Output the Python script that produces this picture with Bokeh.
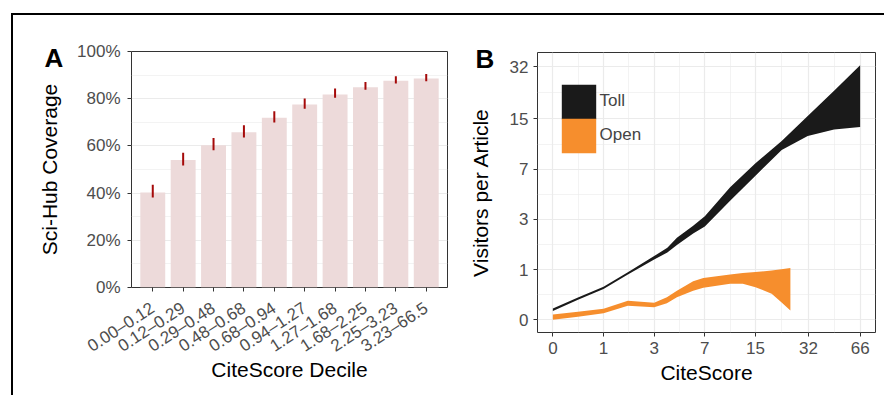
import numpy as np
from bokeh.plotting import figure
from bokeh.models import (FactorRange, FixedTicker, Legend, LegendItem,
                          Range1d, PrintfTickFormatter, CustomJSTickFormatter)
from bokeh.layouts import row
from bokeh.embed import file_html
from bokeh.resources import INLINE

# ---------------- Panel A data ----------------
deciles = ["0.00–0.12", "0.12–0.29", "0.29–0.48", "0.48–0.68", "0.68–0.94",
           "0.94–1.27", "1.27–1.68", "1.68–2.25", "2.25–3.23", "3.23–66.5"]
coverage = [40.3, 54.0, 60.3, 65.8, 71.9, 77.5, 81.8, 84.9, 87.6, 88.6]
cov_lo = [38.1, 51.7, 58.2, 63.6, 69.9, 75.7, 80.4, 83.8, 86.4, 87.4]
cov_hi = [43.5, 57.1, 63.4, 68.8, 74.7, 80.1, 84.3, 87.1, 89.5, 90.5]
pct_ticks = [0, 20, 40, 60, 80, 100]
pct_minor = [10, 30, 50, 70, 90]

# ---------------- Panel B data ----------------
toll_cite = [0, 0.41, 1, 1.79, 3, 3.79, 4.46, 5.82, 7, 10.31, 15, 21.9, 31.7, 45.9, 66]
toll_lo = [0.13, 0.32, 0.53, 0.87, 1.30, 1.53, 1.81, 2.29, 2.63, 4.17, 6.31, 9.41, 11.64, 12.83, 13.32]
toll_hi = [0.17, 0.36, 0.58, 0.93, 1.41, 1.70, 2.10, 2.66, 3.17, 5.23, 7.69, 10.79, 15.68, 22.59, 32.59]

open_cite = [0, 0.41, 1, 1.79, 3, 3.76, 4.46, 5.82, 6.84, 10.31, 12.45, 15, 18.97, 21.8, 24.8]
open_lo = [0.0, 0.043, 0.094, 0.214, 0.189, 0.257, 0.366, 0.495, 0.558, 0.647, 0.647, 0.569, 0.434, 0.275, 0.137]
open_hi = [0.076, 0.117, 0.165, 0.301, 0.266, 0.366, 0.495, 0.705, 0.778, 0.866, 0.905, 0.932, 0.973, 1.007, 1.042]

x_tick_vals = [0, 1, 3, 7, 15, 32, 66]
y_tick_vals = [0, 1, 3, 7, 15, 32]

FONT = "Liberation Sans"
GRID = "#EBEBEB"
DARK = "#333333"


def tr(v):
    return np.log2(1 + np.asarray(v, dtype=float))


def style_axes(p):
    for ax in (p.xaxis[0], p.yaxis[0]):
        ax.axis_line_color = None
        ax.major_tick_line_color = DARK
        ax.major_tick_out = 4
        ax.major_tick_in = 0
        ax.minor_tick_line_color = None
        ax.major_label_text_color = "#4D4D4D"
        ax.major_label_text_font = FONT
        ax.major_label_text_font_size = "17px"
        ax.axis_label_text_font = FONT
        ax.axis_label_text_font_size = "21px"
        ax.axis_label_text_font_style = "normal"
        ax.axis_label_text_color = "black"
    p.outline_line_color = DARK
    p.outline_line_width = 1
    p.background_fill_color = "white"
    p.border_fill_color = "white"
    try:
        p.frame_align = False
    except Exception:
        pass


def panel_letter(p, letter, dx, standoff):
    p.title.text = letter
    p.title.align = "left"
    p.title.offset = dx
    p.title.standoff = standoff
    p.title.vertical_align = "bottom"
    p.title.text_font = FONT
    p.title.text_font_size = "26px"
    p.title.text_font_style = "bold"
    p.title.text_color = "black"


# ---------------- Panel A ----------------
pA = figure(width=452, height=380, output_backend="svg", toolbar_location=None,
            x_range=FactorRange(*deciles, range_padding=0.2, range_padding_units="absolute"),
            y_range=Range1d(0, 100),
            min_border_left=118, min_border_right=18, min_border_top=36, min_border_bottom=108)
pA.vbar(x=deciles, top=coverage, width=0.82, fill_color="#EDDADA", line_color=None)
pA.segment(x0=deciles, y0=cov_lo, x1=deciles, y1=cov_hi, line_color="#A50A0A", line_width=2)
style_axes(pA)
pA.xgrid.grid_line_color = None
pA.ygrid.grid_line_color = GRID
pA.ygrid.grid_line_width = 1.2
pA.ygrid.minor_grid_line_color = GRID
pA.ygrid.minor_grid_line_width = 0.6
pA.yaxis.ticker = FixedTicker(ticks=pct_ticks, minor_ticks=pct_minor)
pA.yaxis.formatter = PrintfTickFormatter(format="%d%%")
pA.xaxis.major_label_orientation = 33 * np.pi / 180
pA.xaxis.major_label_standoff = 15
pA.xaxis.axis_label_standoff = -9
pA.yaxis.major_label_standoff = 7
pA.yaxis.axis_label_standoff = 13
pA.xaxis.axis_label = "CiteScore Decile"
pA.yaxis.axis_label = "Sci-Hub Coverage"
panel_letter(pA, "A", -87, -42)

# ---------------- Panel B ----------------
xmax = float(tr(max(x_tick_vals)))
ymax = float(tr(max(toll_hi)))
pB = figure(width=419, height=380, output_backend="svg", toolbar_location=None,
            x_range=Range1d(-0.05 * xmax, 1.05 * xmax),
            y_range=Range1d(-0.05 * ymax, 1.05 * ymax),
            min_border_left=67, min_border_right=9, min_border_top=37, min_border_bottom=63)
style_axes(pB)
r_toll = pB.varea(x=tr(toll_cite), y1=tr(toll_lo), y2=tr(toll_hi), fill_color="#1A1A1A")
r_open = pB.varea(x=tr(open_cite), y1=tr(open_lo), y2=tr(open_hi), fill_color="#F68E2D")

xt = list(tr(x_tick_vals))
yt = list(tr(y_tick_vals))
pB.xaxis.ticker = FixedTicker(ticks=xt, minor_ticks=[(a + b) / 2 for a, b in zip(xt[:-1], xt[1:])])
pB.yaxis.ticker = FixedTicker(ticks=yt, minor_ticks=[(a + b) / 2 for a, b in zip(yt[:-1], yt[1:])])
pB.xaxis.formatter = CustomJSTickFormatter(code="return String(Math.round(Math.pow(2, tick) - 1));")
pB.yaxis.formatter = CustomJSTickFormatter(code="return String(Math.round(Math.pow(2, tick) - 1));")
for g in (pB.xgrid, pB.ygrid):
    g.grid_line_color = GRID
    g.grid_line_width = 1.2
    g.minor_grid_line_color = GRID
    g.minor_grid_line_width = 0.6
pB.xaxis.major_label_standoff = 5
pB.xaxis.axis_label_standoff = 4
pB.yaxis.major_label_standoff = 5
pB.yaxis.axis_label_standoff = 15
pB.xaxis.axis_label = "CiteScore"
pB.yaxis.axis_label = "Visitors per Article"


def key_legend(label, renderer, loc):
    return Legend(items=[LegendItem(label=label, renderers=[renderer])],
                  location=loc, orientation="vertical", padding=0, margin=0, spacing=0,
                  glyph_width=43, glyph_height=43, label_height=43, label_standoff=0,
                  label_text_font=FONT, label_text_font_size="17px",
                  background_fill_alpha=0, border_line_color=None)


pB.add_layout(key_legend("Toll", r_toll, (20, 209)))
pB.add_layout(key_legend("Open", r_open, (20, 175)))
panel_letter(pB, "B", -62, -42)

layout = row(pA, pB, styles={"border-top": "2px solid black", "border-left": "2px solid black",
                             "margin-top": "12.5px", "margin-left": "10.5px"})

open("out.html", "w", encoding="utf-8").write(file_html(layout, INLINE))
